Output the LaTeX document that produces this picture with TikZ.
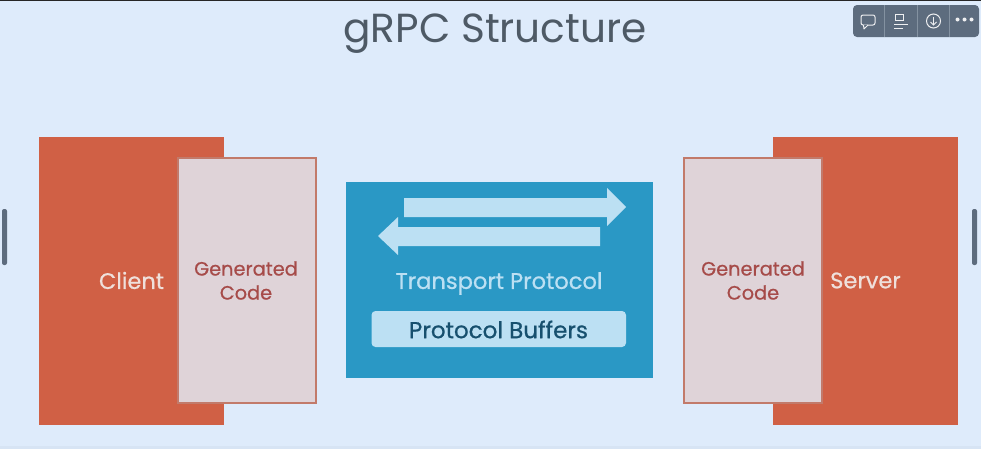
\documentclass[tikz,border=0pt]{standalone}
\usepackage{fontspec}
\setmainfont{Poppins}
\newfontfamily\medfont[FakeBold=0.7]{Poppins}
\definecolor{bgc}{HTML}{DEEBFB}
\definecolor{redc}{HTML}{D06045}
\definecolor{pinkc}{HTML}{DFD3D8}
\definecolor{edgec}{HTML}{C27A6A}
\definecolor{bluec}{HTML}{2A98C5}
\definecolor{lightc}{HTML}{BCE0F3}
\definecolor{darkc}{HTML}{17506E}
\definecolor{gentx}{HTML}{A64B49}
\definecolor{clitx}{HTML}{EFE0DB}
\definecolor{titlec}{HTML}{4E5A66}
\definecolor{barc}{HTML}{5D6C7E}
\definecolor{linec}{HTML}{8492A1}
\tikzset{
  x=1pt,y=-1pt,
  plain/.style={inner sep=0pt,outer sep=0pt,anchor=center},
  panel/.style={plain,anchor=north west,fill=redc},
  gencode/.style={plain,anchor=north west,fill=pinkc,draw=edgec,line width=2pt},
  gentext/.style={plain,text=gentx,font=\medfont\fontsize{19.3}{24}\selectfont,align=center},
  sidetext/.style={plain,text=clitx,font=\medfont\fontsize{22.5}{24}\selectfont},
  icon/.style={draw=white!90!barc,line width=1pt,fill=none},
}
\begin{document}
\begin{tikzpicture}
\useasboundingbox (0,0) rectangle (981,448);
\fill[bgc] (-1,-1) rectangle (982,449);
\fill[black!85] (-1,-1) rectangle (982,1);
\fill[black!3!bgc] (-1,446) rectangle (982,449);
\node[plain,text=titlec,font=\fontsize{40.6}{44}\selectfont] (title) at (495,34) {gRPC Structure};
% client
\node[panel,minimum width=185pt,minimum height=288pt] (client) at (39,136.5) {};
\node[gencode,minimum width=138pt,minimum height=245pt] (cgen) at (178,157.5) {};
\node[sidetext] (clientt) at (131.5,280.5) {Client};
\node[gentext] (cgent) at (246,280.5) {Generated\\Code};
% server
\node[panel,minimum width=185pt,minimum height=288pt] (server) at (773,136.5) {};
\node[gencode,minimum width=138pt,minimum height=245pt] (sgen) at (684,157.5) {};
\node[sidetext] (servert) at (865.5,280.5) {Server};
\node[gentext] (sgent) at (753,280.5) {Generated\\Code};
% transport
\node[plain,anchor=north west,fill=bluec,minimum width=307pt,minimum height=196pt] (transport) at (345.5,182) {};
\fill[lightc] (404,198) -- (607,198) -- (607,188) -- (626,207) -- (607,226) -- (607,217) -- (404,217) -- cycle;
\fill[lightc] (600,227) -- (398,227) -- (398,217) -- (378,236) -- (398,255) -- (398,246) -- (600,246) -- cycle;
\node[plain,text=lightc,font=\medfont\fontsize{22.6}{24}\selectfont] (tp) at (499,283.5) {Transport Protocol};
\node[plain,anchor=north west,fill=lightc,rounded corners=4pt,minimum width=254.5pt,minimum height=36pt] (pb) at (371.5,311) {};
\node[plain,text=darkc,font=\medfont\fontsize{23}{24}\selectfont] (pbt) at (498.5,329.5) {Protocol Buffers};
% handles
\fill[barc,rounded corners=2pt] (2,209) rectangle (7,265);
\fill[barc,rounded corners=2pt] (972,209) rectangle (977,265);
% toolbar
\fill[barc,rounded corners=4pt] (853,5) rectangle (979,37);
\foreach \x in {884.5,917.5,949.5} \draw[linec,line width=.6pt] (\x,5) -- (\x,37);
\draw[icon,rounded corners=2pt,line join=round] (861,15) rectangle (875,25);
\draw[icon,line join=round,fill=barc] (863.5,25) -- (864,29) -- (868,25);
\draw[icon] (895,14) rectangle (903,20);
\draw[icon] (894,24.5) -- (908,24.5);
\draw[icon] (894,28) -- (903,28);
\draw[icon] (933.5,21) circle (7pt);
\draw[icon] (933.5,17) -- (933.5,24.5);
\draw[icon] (930.5,22) -- (933.5,25) -- (936.5,22);
\foreach \x in {957.5,964.5,971.5} \fill[white!90!barc] (\x,19.5) circle (2pt);
\end{tikzpicture}
\end{document}
